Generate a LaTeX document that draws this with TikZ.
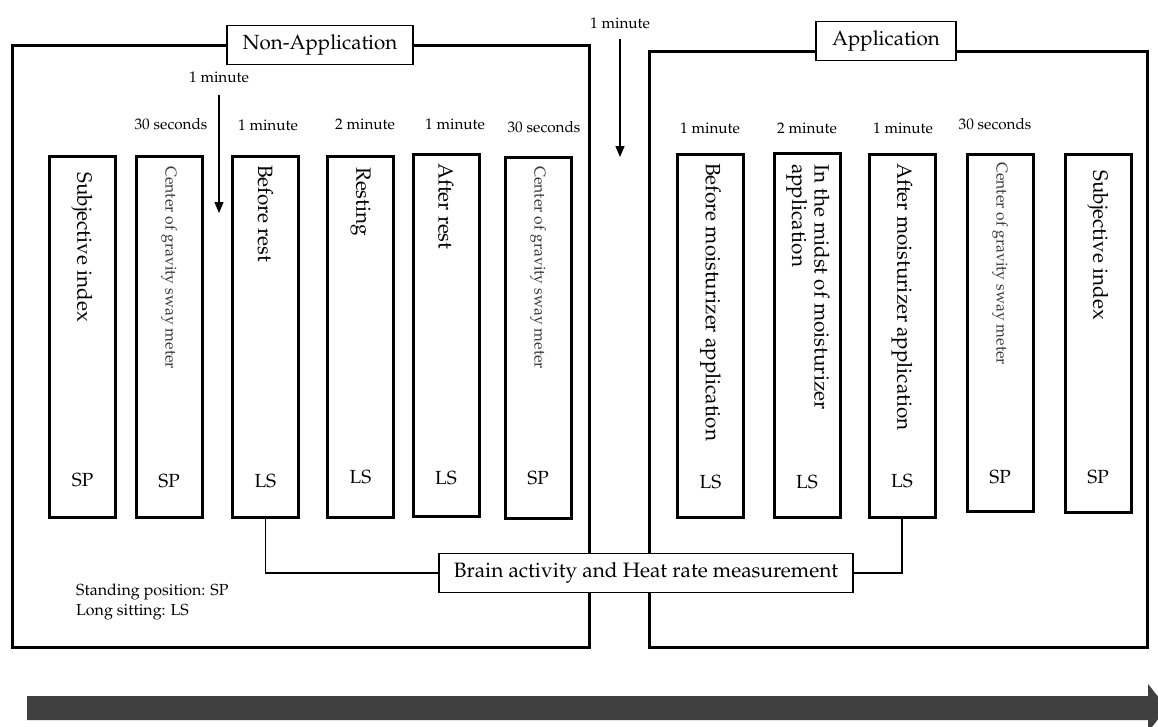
\documentclass[tikz,border=0pt]{standalone}
\usepackage[T1]{fontenc}
\renewcommand{\rmdefault}{ppl}
\usetikzlibrary{arrows.meta}
\definecolor{arrowgray}{HTML}{404040}
\definecolor{softtext}{HTML}{3A3A3A}
\begin{document}
\begin{tikzpicture}[x=1pt,y=-1pt,
  bigbox/.style={draw,line width=3pt},
  colbox/.style={draw,line width=3pt,minimum width=66pt,inner sep=0pt},
  labbox/.style={draw,fill=white,line width=1.3pt,inner sep=0pt,font=\fontsize{20.5}{24}\selectfont},
  vtext/.style={rotate=-90,anchor=west,inner sep=0pt,font=\fontsize{20.7}{22.5}\selectfont,align=left},
  stext/.style={rotate=-90,anchor=west,inner sep=0pt,font=\fontsize{15.7}{18}\selectfont,text=softtext},
  postext/.style={font=\fontsize{19}{22}\selectfont,inner sep=0pt},
  timetext/.style={font=\fontsize{15.3}{18}\selectfont,inner sep=0pt},
  legtext/.style={font=\fontsize{16}{20}\selectfont,inner sep=0pt},
  conn/.style={draw,line width=1.2pt},
  tarr/.style={draw,line width=1.2pt,-{Triangle[length=11pt,width=9pt]}}
]
\clip (0,0) rectangle (1158,726);
\fill[white] (0,0) rectangle (1158,726);

% big boxes
\draw[bigbox] (12,45) rectangle (589,647);
\draw[bigbox] (649,51) rectangle (1147,647);
\node[labbox,minimum width=186pt,minimum height=39pt] (nonapp) at (320,45) {Non-Application};
\node[labbox,minimum width=140pt,minimum height=39pt] (app) at (886,41) {Application};

% left columns
\node[colbox,minimum height=361pt] (c1) at (82.6,336.5) {};
\node[colbox,minimum height=361pt] (c2) at (169.2,336.5) {};
\node[colbox,minimum height=361pt] (c3) at (265.3,336.5) {};
\node[colbox,minimum height=361pt] (c4) at (360.5,336.5) {};
\node[colbox,minimum height=362pt] (c5) at (446,335) {};
\node[colbox,minimum height=361pt] (c6) at (538,337.5) {};

\node[vtext] (c1t) at (82,172) {Subjective index};
\node[stext] (c2t) at (169.2,166) {Center of gravity sway meter};
\node[vtext] (c3t) at (265.3,165) {Before rest};
\node[vtext] (c4t) at (360.5,167) {Resting};
\node[vtext] (c5t) at (446,163) {After rest};
\node[stext] (c6t) at (538,166) {Center of gravity sway meter};

\node[postext] (c1p) at (82.6,480) {SP};
\node[postext] (c2p) at (169.2,481) {SP};
\node[postext] (c3p) at (265.3,481) {LS};
\node[postext] (c4p) at (360.5,477) {LS};
\node[postext] (c5p) at (446,478) {LS};
\node[postext] (c6p) at (538,478) {SP};

% right columns
\node[colbox,minimum height=363pt] (d1) at (710.5,335.5) {};
\node[colbox,minimum height=364pt] (d2) at (807,335) {};
\node[colbox,minimum height=363pt] (d3) at (902,335.5) {};
\node[colbox,minimum height=357pt] (d4) at (1000,332.5) {};
\node[colbox,minimum height=358pt] (d5) at (1098,333) {};

\node[vtext] (d1t) at (710.5,163) {Before moisturizer application};
\node[vtext] (d2t) at (808,164) {In the midst of moisturizer\\application};
\node[vtext] (d3t) at (902,163) {After moisturizer application};
\node[stext] (d4t) at (1000,162) {Center of gravity sway meter};
\node[vtext] (d5t) at (1098,170) {Subjective index};

\node[postext] (d1p) at (710.5,482) {LS};
\node[postext] (d2p) at (807,482) {LS};
\node[postext] (d3p) at (902,481) {LS};
\node[postext] (d4p) at (1000,477) {SP};
\node[postext] (d5p) at (1098,477) {SP};

% timing labels
\node[timetext] (t0) at (219,77) {1 minute};
\node[timetext] (tl1) at (171,124) {30 seconds};
\node[timetext] (tl2) at (268,125) {1 minute};
\node[timetext] (tl3) at (365,124) {2 minute};
\node[timetext] (tl4) at (455,124) {1 minute};
\node[timetext] (tl5) at (544,127) {30 seconds};
\node[timetext] (tm) at (620,23) {1 minute};
\node[timetext] (tr1) at (710,128) {1 minute};
\node[timetext] (tr2) at (807,128) {2 minute};
\node[timetext] (tr3) at (903,128) {1 minute};
\node[timetext] (tr4) at (995,124) {30 seconds};

\coordinate (a0s) at (219,95);
\coordinate (a0e) at (219,213);
\coordinate (ams) at (620,39);
\coordinate (ame) at (620,157);
\draw[tarr] (a0s) -- (a0e);
\draw[tarr] (ams) -- (ame);

% brain activity
\node[labbox,minimum width=414pt,minimum height=39pt,font=\fontsize{20.8}{24}\selectfont] (brain) at (646,573) {Brain activity and Heat rate measurement};
\draw[conn] (c3.south) |- (brain.west);
\draw[conn] (d3.south) |- (brain.east);

% legend
\node[legtext,anchor=west,align=left] (legend) at (76,602) {Standing position: SP\\Long sitting: LS};

% time arrow
\fill[arrowgray] (27,696) -- (1148,696) -- (1148,684) -- (1167,708) -- (1148,732) -- (1148,720) -- (27,720) -- cycle;
\end{tikzpicture}
\end{document}
